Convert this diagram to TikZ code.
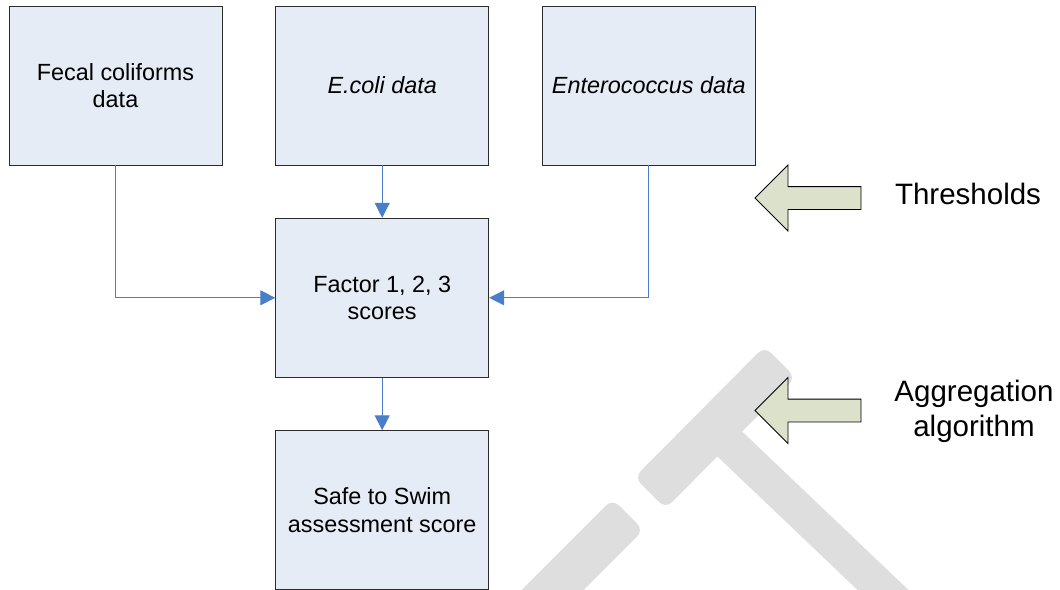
\documentclass[tikz,border=0pt]{standalone}
\usepackage{fontspec}
\setmainfont{Liberation Sans}
\usetikzlibrary{arrows.meta}
\definecolor{boxfill}{HTML}{E6ECF6}
\definecolor{boxline}{HTML}{2B2B2B}
\definecolor{flow}{HTML}{4A7EC8}
\definecolor{blockfill}{HTML}{DCE1CB}
\definecolor{markgray}{HTML}{DEDEDE}

\begin{document}
\begin{tikzpicture}[x=1pt,y=-1pt,
  databox/.style={draw=boxline, line width=0.9pt, fill=boxfill,
    minimum width=213pt, minimum height=159pt, inner sep=0pt,
    align=center, font=\fontsize{23.4}{27.5}\selectfont},
  flowline/.style={draw=flow, line width=1.1pt,
    -{Triangle[length=15pt,width=15pt]}},
  blockarrow/.style={draw=black, line width=0.8pt, fill=blockfill,
    line join=miter},
  sidelabel/.style={align=center, inner sep=0pt,
    font=\fontsize{29.5}{34.5}\selectfont},
  markshape/.style={fill=markgray}]
\useasboundingbox (0,0) rectangle (1060,589);
\clip (0,0) rectangle (1060,589);

% light grey hammer mark in the background
\fill[markshape] (724.8,415) -- (1003,680) -- (952,680) -- (700.1,440) -- cycle;
\fill[markshape, rounded corners=9pt]
  (780,362) -- (795.6,377.6) -- (665.6,508.6) -- (634.4,477.4)
  -- (764.4,346.4) -- (780,362);
\fill[markshape, rounded corners=9pt]
  (628,514.5) -- (643.6,530.1) -- (443.6,730.1) -- (412.5,699)
  -- (612.5,499) -- (628,514.5);

% data and score boxes
\node[databox] (fecal)  at (115.5,85.5) {Fecal coliforms\\data};
\node[databox] (ecoli)  at (382.2,85.5) {\itshape E.coli data};
\node[databox] (entero) at (648.8,85.5) {\itshape Enterococcus data};
\node[databox] (factor) at (382.2,297.8) {Factor 1, 2, 3\\scores};
\node[databox] (safe)   at (382.2,510.2) {Safe to Swim\\assessment score};

% connectors
\draw[flowline] (fecal.south) |- (factor.west);
\draw[flowline] (ecoli.south) -- (factor.north);
\draw[flowline] (entero.south) |- (factor.east);
\draw[flowline] (factor.south) -- (safe.north);

% block arrows with their labels
\draw[blockarrow] (755,198) -- (788,165) -- (788,186.6) -- (861,186.6)
  -- (861,209.4) -- (788,209.4) -- (788,231) -- cycle;
\node[sidelabel] (thresholds) at (968,193.5) {Thresholds};

\draw[blockarrow] (755,410.5) -- (788,377.5) -- (788,399.1) -- (861,399.1)
  -- (861,421.9) -- (788,421.9) -- (788,443.5) -- cycle;
\node[sidelabel] (aggregation) at (974,411.5) {Aggregation\\algorithm};
\end{tikzpicture}
\end{document}
